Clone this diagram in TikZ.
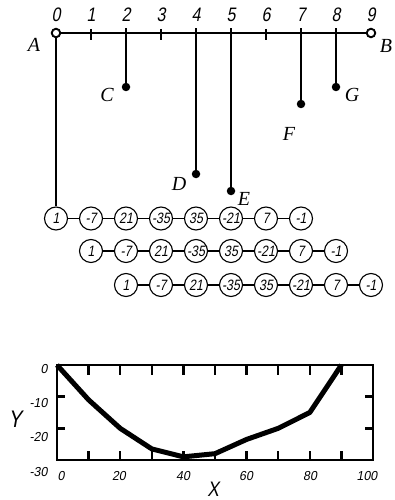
\documentclass[tikz,border=0pt]{standalone}
\usepackage{fontspec}
\setmainfont{Liberation Serif}
\newfontfamily\tech[FakeSlant=0.18,FakeStretch=0.82]{Liberation Sans}
\newfontfamily\techw[FakeSlant=0.18,FakeStretch=0.95]{Liberation Sans}
\begin{document}
\begin{tikzpicture}[x=1pt,y=-1pt,
  mainline/.style={line width=1.7pt},
  opencirc/.style={circle, draw, line width=1.9pt, fill=white, minimum size=8.5pt, inner sep=0pt},
  blackdot/.style={circle, fill, minimum size=8.5pt, inner sep=0pt},
  coef/.style={circle, draw, line width=1.1pt, minimum size=23pt, inner sep=0pt, font=\tech\fontsize{15}{15}\selectfont},
  axnum/.style={anchor=base, font=\tech\fontsize{19.5}{19.5}\selectfont},
  ptlabel/.style={anchor=base, font=\itshape\fontsize{20}{20}\selectfont},
  gnum/.style={font=\techw\fontsize{13}{13}\selectfont},
  glabel/.style={anchor=base, inner sep=0pt, font=\tech\fontsize{24}{24}\selectfont}]
\useasboundingbox (0,0) rectangle (394,500);
% top scale
\node[opencirc] (A0) at (56,33) {};
\node[opencirc] (B9) at (371,33) {};
\draw[mainline] (A0) -- (B9);
\foreach \k in {0,...,9} { \node[axnum] (n\k) at ({56+35*\k},21.7) {\k}; }
\foreach \k in {1,3,6} {
  \coordinate (ta\k) at ({56+35*\k},29);
  \coordinate (tb\k) at ({56+35*\k},40.5);
  \draw[mainline] (ta\k) -- (tb\k);
}
\foreach \k in {2,4,5,7,8} { \coordinate (top\k) at ({56+35*\k},28.5); }
% dots
\node[blackdot] (C) at (126,87) {};
\node[blackdot] (G) at (336,87) {};
\node[blackdot] (F) at (301,104) {};
\node[blackdot] (D) at (196,174) {};
\node[blackdot] (E) at (231,191) {};
\draw[mainline] (top2) -- (C.center);
\draw[mainline] (top8) -- (G.center);
\draw[mainline] (top7) -- (F.center);
\draw[mainline] (top4) -- (D.center);
\draw[mainline] (top5) -- (E.center);
% letters
\node[ptlabel] (lA) at (34,52) {A};
\node[ptlabel] (lB) at (386,53) {B};
\node[ptlabel] (lC) at (107,102) {C};
\node[ptlabel] (lG) at (352,102) {G};
\node[ptlabel] (lF) at (289,140) {F};
\node[ptlabel] (lD) at (179,190) {D};
\node[ptlabel] (lE) at (244,205) {E};
% chains
\foreach \r/\y/\s in {1/218.5/0, 2/251/1, 3/285/2} {
  \foreach \v [count=\i from 0] in {1,-7,21,-35,35,-21,7,-1} {
    \node[coef] (r\r c\i) at ({56+35*(\i+\s)},\y) {\v};
  }
  \foreach \i [count=\j from 1] in {0,...,6} { \draw[line width=1.1pt] (r\r c\i) -- (r\r c\j); }
}
\draw[mainline] (A0) -- (r1c0);
% graph
\begin{scope}[shift={(57,365)}, x=3.16pt, y=3.1667pt]
  \draw[line width=2.7pt] (0,0) rectangle (100,-30);
  \foreach \t in {10,20,...,90} {
    \draw[line width=2.5pt] (\t,0) -- (\t,-3);
    \draw[line width=2.5pt] (\t,-30) -- (\t,-27);
  }
  \foreach \t in {-10,-20} {
    \draw[line width=2.5pt] (0,\t) -- (2.6,\t);
    \draw[line width=2.5pt] (100,\t) -- (97.4,\t);
  }
  \draw[line width=5pt, line join=round] (0,0) -- (10,-11) -- (20,-20) -- (30,-26.5) -- (40,-29) -- (50,-28) -- (60,-23.5) -- (70,-20) -- (80,-15) -- (90,0);
\end{scope}
\node[gnum, anchor=base east] (y0) at (51,373.3) {0};
\node[gnum, anchor=base east] (y10) at (51,407) {-10};
\node[gnum, anchor=base east] (y20) at (51,441.7) {-20};
\node[gnum, anchor=base east] (y30) at (51,476) {-30};
\node[gnum, anchor=base] (x0) at (61,480) {0};
\node[gnum, anchor=base] (x20) at (119,480) {20};
\node[gnum, anchor=base] (x40) at (183,480) {40};
\node[gnum, anchor=base] (x60) at (246,480) {60};
\node[gnum, anchor=base] (x80) at (310,480) {80};
\node[gnum, anchor=base] (x100) at (367,480) {100};
\node[glabel] (Ylab) at (15,427) {Y};
\node[glabel, font=\tech\fontsize{21}{21}\selectfont] (Xlab) at (213,496) {X};
\end{tikzpicture}
\end{document}
